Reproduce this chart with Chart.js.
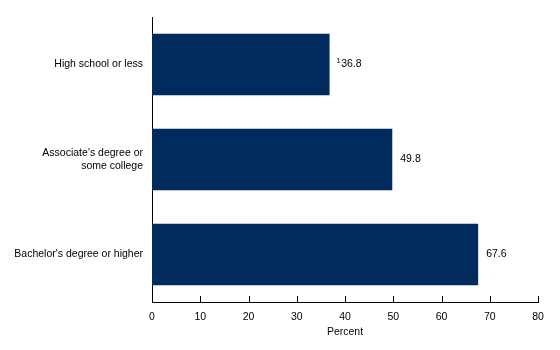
<!DOCTYPE html>
<html>
<head>
<meta charset="utf-8">
<script src="https://cdn.jsdelivr.net/npm/chart.js@4/dist/chart.umd.min.js"></script>
<style>
  html, body { margin: 0; padding: 0; background: #fff; }
  #wrap { width: 560px; height: 350px; }
</style>
</head>
<body>
<div id="wrap"><canvas id="chart"></canvas></div>
<script>
const categories = [
  "High school or less",
  ["Associate's degree or", "some college"],
  "Bachelor's degree or higher",
];
const percents = [36.8, 49.8, 67.6];
const footnotes = ["1", "", ""];
const xTicks = [0, 10, 20, 30, 40, 50, 60, 70, 80];

const barColor = "#012b5d";

// small tick marks pointing up from the x axis
const innerTicks = {
  id: "innerTicks",
  afterDraw(chart) {
    let ctx = chart.ctx;
    let x = chart.scales.x;
    ctx.save();
    ctx.strokeStyle = "#000";
    ctx.lineWidth = 1;
    xTicks.forEach((v) => {
      let px = Math.round(x.getPixelForValue(v)) + 0.5;
      ctx.beginPath();
      ctx.moveTo(px, x.top);
      ctx.lineTo(px, x.top - 6);
      ctx.stroke();
    });
    ctx.restore();
  },
};

// value labels at the end of each bar
const barLabels = {
  id: "barLabels",
  afterDatasetsDraw(chart) {
    let ctx = chart.ctx;
    let meta = chart.getDatasetMeta(0);
    ctx.save();
    ctx.fillStyle = "#000";
    ctx.textBaseline = "middle";
    ctx.textAlign = "left";
    meta.data.forEach((bar, i) => {
      let x = bar.x + 8;
      if (footnotes[i]) {
        ctx.font = "7.5px 'Liberation Sans', Arial, sans-serif";
        ctx.fillText(footnotes[i], x - 1, bar.y - 4);
        x += ctx.measureText(footnotes[i]).width - 0.5;
      }
      ctx.font = "10.5px 'Liberation Sans', Arial, sans-serif";
      ctx.fillText(percents[i].toFixed(1), x, bar.y);
    });
    ctx.restore();
  },
};

Chart.defaults.font.family = "'Liberation Sans', Arial, sans-serif";
Chart.defaults.font.size = 10.5;
Chart.defaults.color = "#000";

new Chart(document.getElementById("chart"), {
  type: "bar",
  data: {
    labels: categories,
    datasets: [
      {
        data: percents,
        backgroundColor: barColor,
        borderWidth: 0,
        barPercentage: 0.645,
        categoryPercentage: 1,
      },
    ],
  },
  options: {
    indexAxis: "y",
    responsive: true,
    maintainAspectRatio: false,
    animation: false,
    layout: { padding: { top: 17, right: 22, left: 0, bottom: 0 } },
    plugins: {
      legend: { display: false },
      tooltip: { enabled: false },
    },
    scales: {
      x: {
        min: 0,
        max: 80,
        afterBuildTicks: (scale) => {
          scale.ticks = xTicks.map((v) => ({ value: v }));
        },
        afterFit: (scale) => {
          scale.height = 48;
        },
        grid: { display: false, drawTicks: false },
        border: { display: true, color: "#000", width: 1 },
        ticks: { padding: 9, color: "#000", maxRotation: 0 },
        title: {
          display: true,
          text: "Percent",
          color: "#000",
          padding: { top: 0, bottom: 12 },
        },
      },
      y: {
        afterFit: (scale) => {
          scale.width = 152;
        },
        grid: { display: false, drawTicks: false },
        border: { display: true, color: "#000", width: 1 },
        ticks: { padding: 9, color: "#000" },
      },
    },
  },
  plugins: [innerTicks, barLabels],
});
</script>
</body>
</html>
